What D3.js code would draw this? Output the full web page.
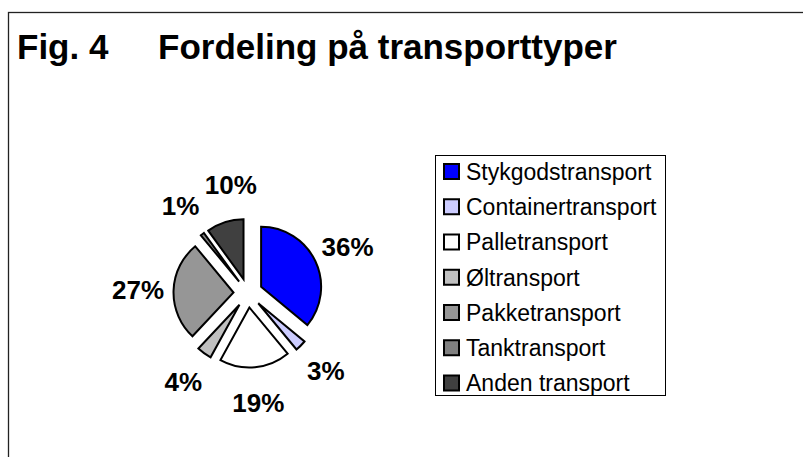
<!DOCTYPE html>
<html>
<head>
<meta charset="utf-8">
<script src="https://cdn.jsdelivr.net/npm/d3@7"></script>
<style>
  html, body { margin: 0; padding: 0; background: #fff; }
  svg { display: block; }
  text { font-family: Arial, "Liberation Sans", sans-serif; }
</style>
</head>
<body>
<svg id="chart" width="803" height="457"></svg>
<script>
// ---- data ----
const categories = ["Stykgodstransport", "Containertransport", "Palletransport", "Øltransport", "Pakketransport", "Tanktransport", "Anden transport"];
const shares = [36, 3, 19, 4, 27, 1, 10];
const colors = ["#0000FF", "#CCCCFF", "#FFFFFF", "#C0C0C0", "#969696", "#808080", "#404040"];
const titleFig = "Fig. 4";
const titleText = "Fordeling på transporttyper";

// ---- layout ----
const svg = d3.select("#chart");
const W = 803, H = 457;
const cx = 248, cy = 293, R = 60, explode = 14.5, labelR = 110;

// outer frame (extends beyond right/bottom)
svg.append("rect")
  .attr("x", 8.5).attr("y", 12.5)
  .attr("width", W + 20).attr("height", H + 20)
  .attr("fill", "#fff").attr("stroke", "#222").attr("stroke-width", 1.3);

// title
const t = svg.append("text")
  .attr("x", 17).attr("y", 59)
  .attr("font-size", 35).attr("font-weight", "bold").attr("fill", "#000");
t.append("tspan").text(titleFig);
t.append("tspan").attr("x", 158).text(titleText);

// pie
const data = categories.map((c, i) => ({ name: c, value: shares[i], color: colors[i] }));
const pie = d3.pie().sort(null).value(d => d.value).startAngle(0).endAngle(2 * Math.PI);
const arcs = pie(data);
const arc = d3.arc().innerRadius(0).outerRadius(R);

const g = svg.append("g").attr("transform", `translate(${cx},${cy})`);
g.selectAll("path.slice")
  .data(arcs)
  .join("path")
  .attr("class", "slice")
  .attr("d", arc)
  .attr("transform", d => {
    const m = (d.startAngle + d.endAngle) / 2;
    return `translate(${explode * Math.sin(m)},${-explode * Math.cos(m)})`;
  })
  .attr("fill", d => d.data.color)
  .attr("stroke", "#000")
  .attr("stroke-width", 2)
  .attr("stroke-linejoin", "miter");

// labels, rotated forward when they collide with an earlier label
const fmt = d => d3.format(".0f")(d.value) + "%";
const placed = [];
const fs = 26;
arcs.forEach(d => {
  let m = (d.startAngle + d.endAngle) / 2;
  const txt = fmt(d.data);
  const w = txt.length === 2 ? 40 : 57, h = 22;
  let x, y, box;
  for (let k = 0; k < 60; k++) {
    x = labelR * Math.sin(m); y = -labelR * Math.cos(m);
    box = { x0: x - w / 2, x1: x + w / 2, y0: y - h / 2, y1: y + h / 2 };
    const hit = placed.some(b => !(box.x1 < b.x0 || box.x0 > b.x1 || box.y1 < b.y0 || box.y0 > b.y1));
    if (!hit) break;
    m += Math.PI / 180;
  }
  placed.push(box);
  g.append("text")
    .attr("x", x).attr("y", y)
    .attr("dy", "0.36em")
    .attr("text-anchor", "middle")
    .attr("font-size", fs).attr("font-weight", "bold").attr("fill", "#000")
    .text(txt);
});

// legend
const lx = 435.5, ly = 155.5, lw = 230, lh = 240;
const lg = svg.append("g");
lg.append("rect").attr("x", lx).attr("y", ly).attr("width", lw).attr("height", lh)
  .attr("fill", "#fff").attr("stroke", "#000").attr("stroke-width", 1);
const rowY = d3.scalePoint().domain(categories).range([171.5, 383]);
const items = lg.selectAll("g.item").data(data).join("g").attr("class", "item")
  .attr("transform", d => `translate(0,${rowY(d.name)})`);
items.append("rect")
  .attr("x", 444).attr("y", -7.5).attr("width", 15).attr("height", 15)
  .attr("fill", d => d.color).attr("stroke", "#000").attr("stroke-width", 2);
items.append("text")
  .attr("x", 466).attr("y", 0).attr("dy", "0.36em")
  .attr("font-size", 23).attr("fill", "#000")
  .text(d => d.name);
</script>
</body>
</html>
